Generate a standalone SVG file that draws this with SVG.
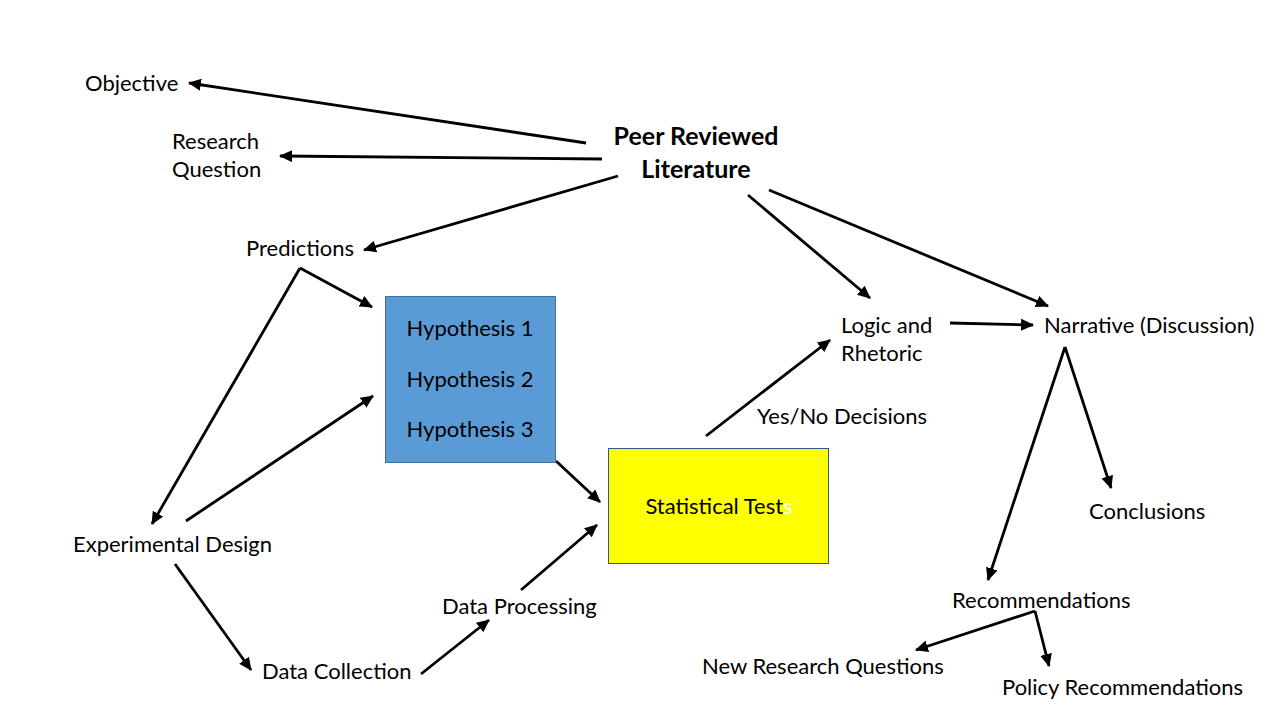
<svg xmlns="http://www.w3.org/2000/svg" width="1280" height="720" viewBox="0 0 1280 720">
<defs>
<marker id="ah" markerUnits="userSpaceOnUse" markerWidth="14" markerHeight="12" refX="12" refY="6" orient="auto">
<path d="M0,0 L13,6 L0,12 z" fill="#000"/>
</marker>
<style>
text{font-family:"Lato","Open Sans","Liberation Sans",sans-serif;font-size:22px;fill:#000;dominant-baseline:central}
.b{font-weight:bold;font-size:25px}
.c{text-anchor:middle}
.cn line{stroke:#000;stroke-width:2.8;marker-end:url(#ah)}
</style>
</defs>
<rect width="1280" height="720" fill="#fff"/>
<g class="cn" id="connectors">
<line x1="586" y1="143" x2="189" y2="83"/>
<line x1="602" y1="159" x2="280" y2="156"/>
<line x1="618" y1="176" x2="364" y2="250"/>
<line x1="300" y1="268" x2="372" y2="307"/>
<line x1="300" y1="268" x2="152" y2="524"/>
<line x1="186" y1="521" x2="373" y2="396"/>
<line x1="556" y1="461" x2="600" y2="502"/>
<line x1="175" y1="564" x2="251" y2="670"/>
<line x1="421" y1="674" x2="489" y2="620"/>
<line x1="521" y1="590" x2="597" y2="525"/>
<line x1="706" y1="436" x2="830" y2="340"/>
<line x1="748" y1="195" x2="870" y2="298"/>
<line x1="769" y1="190" x2="1048" y2="306"/>
<line x1="950" y1="323" x2="1033" y2="325"/>
<line x1="1065" y1="347" x2="988" y2="580"/>
<line x1="1065" y1="347" x2="1111" y2="488"/>
<line x1="1035" y1="611" x2="916" y2="650"/>
<line x1="1035" y1="611" x2="1049" y2="666"/>
</g>
<g id="peer"><text class="b c" x="696" y="135">Peer Reviewed</text><text class="b c" x="696" y="168">Literature</text></g>
<g id="objective"><text x="85" y="82">Objective</text></g>
<g id="research-question"><text x="172" y="140">Research</text><text x="172" y="168">Question</text></g>
<g id="predictions"><text x="246" y="247">Predictions</text></g>
<g id="hypotheses">
<rect x="385.5" y="296.5" width="170" height="166" fill="#5B9BD5" stroke="#41719C" stroke-width="1"/>
<text class="c" x="470" y="327">Hypothesis 1</text>
<text class="c" x="470" y="378">Hypothesis 2</text>
<text class="c" x="470" y="428">Hypothesis 3</text>
</g>
<g id="statistical-tests">
<rect x="608.5" y="448.5" width="220" height="115" fill="#FFFF00" stroke="#2F5597" stroke-width="1"/>
<text class="c" x="719" y="505">Statistical Test<tspan fill="#fff">s</tspan></text>
</g>
<g id="yes-no"><text x="757" y="415">Yes/No Decisions</text></g>
<g id="logic"><text x="841" y="324">Logic and</text><text x="841" y="352">Rhetoric</text></g>
<g id="narrative"><text x="1044" y="324">Narrative (Discussion)</text></g>
<g id="conclusions"><text x="1089" y="510">Conclusions</text></g>
<g id="experimental-design"><text x="73" y="543">Experimental Design</text></g>
<g id="data-collection"><text x="262" y="670">Data Collection</text></g>
<g id="data-processing"><text x="442" y="605">Data Processing</text></g>
<g id="recommendations"><text x="952" y="599">Recommendations</text></g>
<g id="new-research"><text x="702" y="665">New Research Questions</text></g>
<g id="policy"><text x="1002" y="686">Policy Recommendations</text></g>
</svg>
